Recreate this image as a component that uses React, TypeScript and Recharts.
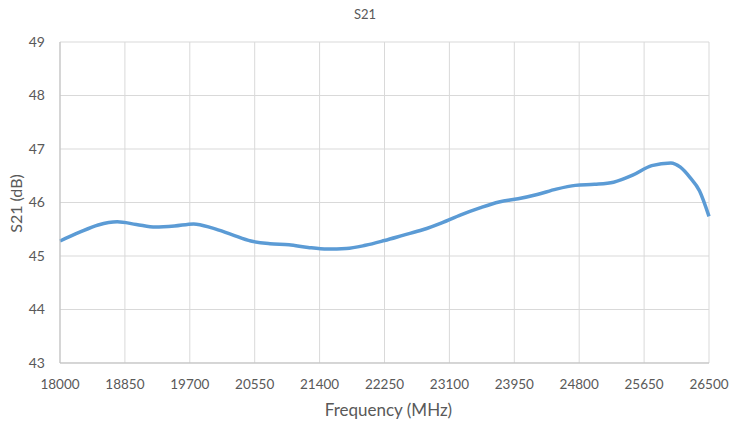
import React from "react";
import { LineChart, Line, XAxis, YAxis, CartesianGrid } from "recharts";

const frequencies = [
  18000, 18250, 18500, 18750, 19000, 19250, 19500, 19750, 20000, 20250, 20500, 20750,
  21000, 21250, 21500, 21750, 22000, 22250, 22500, 22750, 23000, 23250, 23500, 23750,
  24000, 24250, 24500, 24750, 25000, 25250, 25500, 25750, 26000, 26125, 26250, 26375, 26500,
];
const s21Values = [
  45.28, 45.44, 45.58, 45.64, 45.59, 45.54, 45.56, 45.6, 45.52, 45.4, 45.28, 45.23,
  45.21, 45.16, 45.13, 45.14, 45.2, 45.29, 45.39, 45.49, 45.62, 45.77, 45.9, 46.01,
  46.07, 46.15, 46.25, 46.32, 46.34, 46.38, 46.51, 46.69, 46.74, 46.66, 46.47, 46.22, 45.74,
];
const xTicks = [18000, 18850, 19700, 20550, 21400, 22250, 23100, 23950, 24800, 25650, 26500];
const yTicks = [43, 44, 45, 46, 47, 48, 49];

const data = frequencies.map((f, i) => ({ freq: f, s21: s21Values[i] }));

const font = "Lato, 'Open Sans', sans-serif";
const textColor = "#595959";

export default function App() {
  return (
    <div style={{ position: "absolute", left: 0, top: 0, width: 730, height: 426, background: "#fff", fontFamily: font }}>
      <div style={{ position: "absolute", top: 7, left: 0, width: 730, textAlign: "center", fontSize: 13, lineHeight: "15px", color: textColor }}>
        S21
      </div>
      <LineChart width={730} height={426} data={data} margin={{ top: 42, right: 21, left: 0, bottom: 0 }}>
        <CartesianGrid stroke="#d9d9d9" strokeWidth={1} />
        <XAxis
          type="number"
          dataKey="freq"
          domain={[18000, 26500]}
          ticks={xTicks}
          interval={0}
          height={63}
          tickSize={0}
          tickMargin={16}
          stroke="#bfbfbf"
          tick={{ fill: textColor, fontSize: 13.5, fontFamily: font }}
          label={{ value: "Frequency (MHz)", position: "insideBottom", offset: 10, fill: textColor, fontSize: 17, fontFamily: font, dx: 4 }}
        />
        <YAxis
          type="number"
          domain={[43, 49]}
          ticks={yTicks}
          interval={0}
          width={60}
          tickSize={0}
          tickMargin={15}
          stroke="#bfbfbf"
          tick={{ fill: textColor, fontSize: 14, fontFamily: font }}
          label={(props: any) => {
            const vb = props.viewBox || { x: 0, y: 42, width: 60, height: 321 };
            const cx = vb.x + 15;
            const cy = vb.y + vb.height / 2 + 1;
            return (
              <text x={cx} y={cy} transform={`rotate(-90 ${cx} ${cy})`} textAnchor="middle" dominantBaseline="central" fill={textColor} fontSize={16} fontFamily={font}>
                S21 (dB)
              </text>
            );
          }}
        />
        <Line type="monotone" dataKey="s21" stroke="#5b9bd5" strokeWidth={3.5} dot={false} isAnimationActive={false} />
      </LineChart>
    </div>
  );
}
